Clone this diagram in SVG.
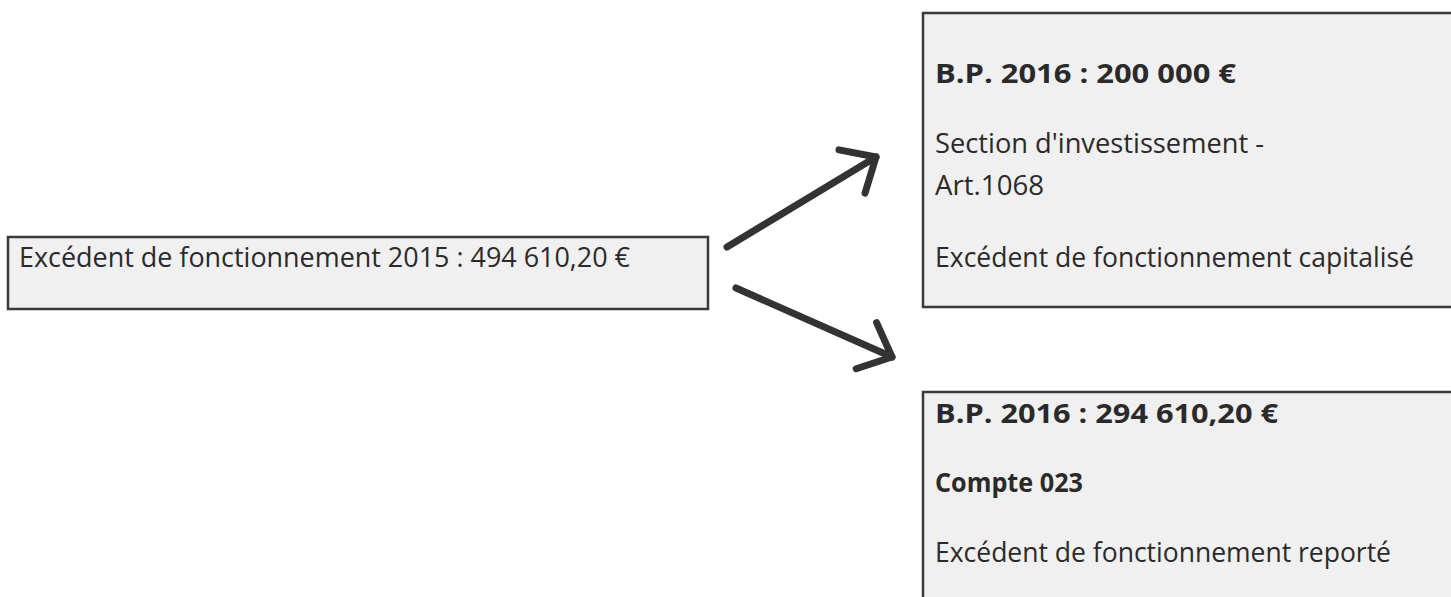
<svg xmlns="http://www.w3.org/2000/svg" width="1451" height="597" viewBox="0 0 1451 597">
  <style>
    .box { fill: #f1f0f0; stroke: #3a3a3a; stroke-width: 2.5; }
    .txt { font-family: "Open Sans", "DejaVu Sans", sans-serif; fill: #2a2a2a; font-size: 27px; }
    .bold { font-weight: bold; }
    .conn { fill: none; stroke: #333333; stroke-width: 7; stroke-linecap: round; }
  </style>
  <defs>
    <marker id="arrow" viewBox="-6 -5 8 10" refX="0" refY="0" markerWidth="8" markerHeight="10" orient="auto" markerUnits="strokeWidth" overflow="visible">
      <path d="M-4,-3.6 L0,0 L-4,3.6" fill="none" stroke="#333333" stroke-width="1" stroke-linecap="round" stroke-linejoin="round"/>
    </marker>
  </defs>
  <rect width="1451" height="597" fill="#ffffff"/>

  <g id="node-excedent-2015">
    <rect class="box" x="8" y="237" width="700" height="72"/>
    <text class="txt" x="19" y="267" textLength="611" lengthAdjust="spacingAndGlyphs">Excédent de fonctionnement 2015 : 494 610,20 €</text>
  </g>

  <g id="node-investissement">
    <rect class="box" x="923" y="13" width="540" height="294"/>
    <text class="txt bold" x="935" y="83" textLength="301" lengthAdjust="spacingAndGlyphs">B.P. 2016 : 200 000 €</text>
    <text class="txt" x="935" y="153" textLength="329" lengthAdjust="spacingAndGlyphs">Section d'investissement -</text>
    <text class="txt" x="935" y="195" textLength="109" lengthAdjust="spacingAndGlyphs">Art.1068</text>
    <text class="txt" x="935" y="267" textLength="479" lengthAdjust="spacingAndGlyphs">Excédent de fonctionnement capitalisé</text>
  </g>

  <g id="node-reporte">
    <rect class="box" x="923" y="392" width="540" height="220"/>
    <text class="txt bold" x="935" y="423" textLength="343" lengthAdjust="spacingAndGlyphs">B.P. 2016 : 294 610,20 €</text>
    <text class="txt bold" x="935" y="492" textLength="148" lengthAdjust="spacingAndGlyphs">Compte 023</text>
    <text class="txt" x="935" y="562" textLength="456" lengthAdjust="spacingAndGlyphs">Excédent de fonctionnement reporté</text>
  </g>

  <g id="connectors">
    <line class="conn" x1="727" y1="247" x2="876" y2="157" marker-end="url(#arrow)"/>
    <line class="conn" x1="736" y1="288" x2="892" y2="357" marker-end="url(#arrow)"/>
  </g>
</svg>
